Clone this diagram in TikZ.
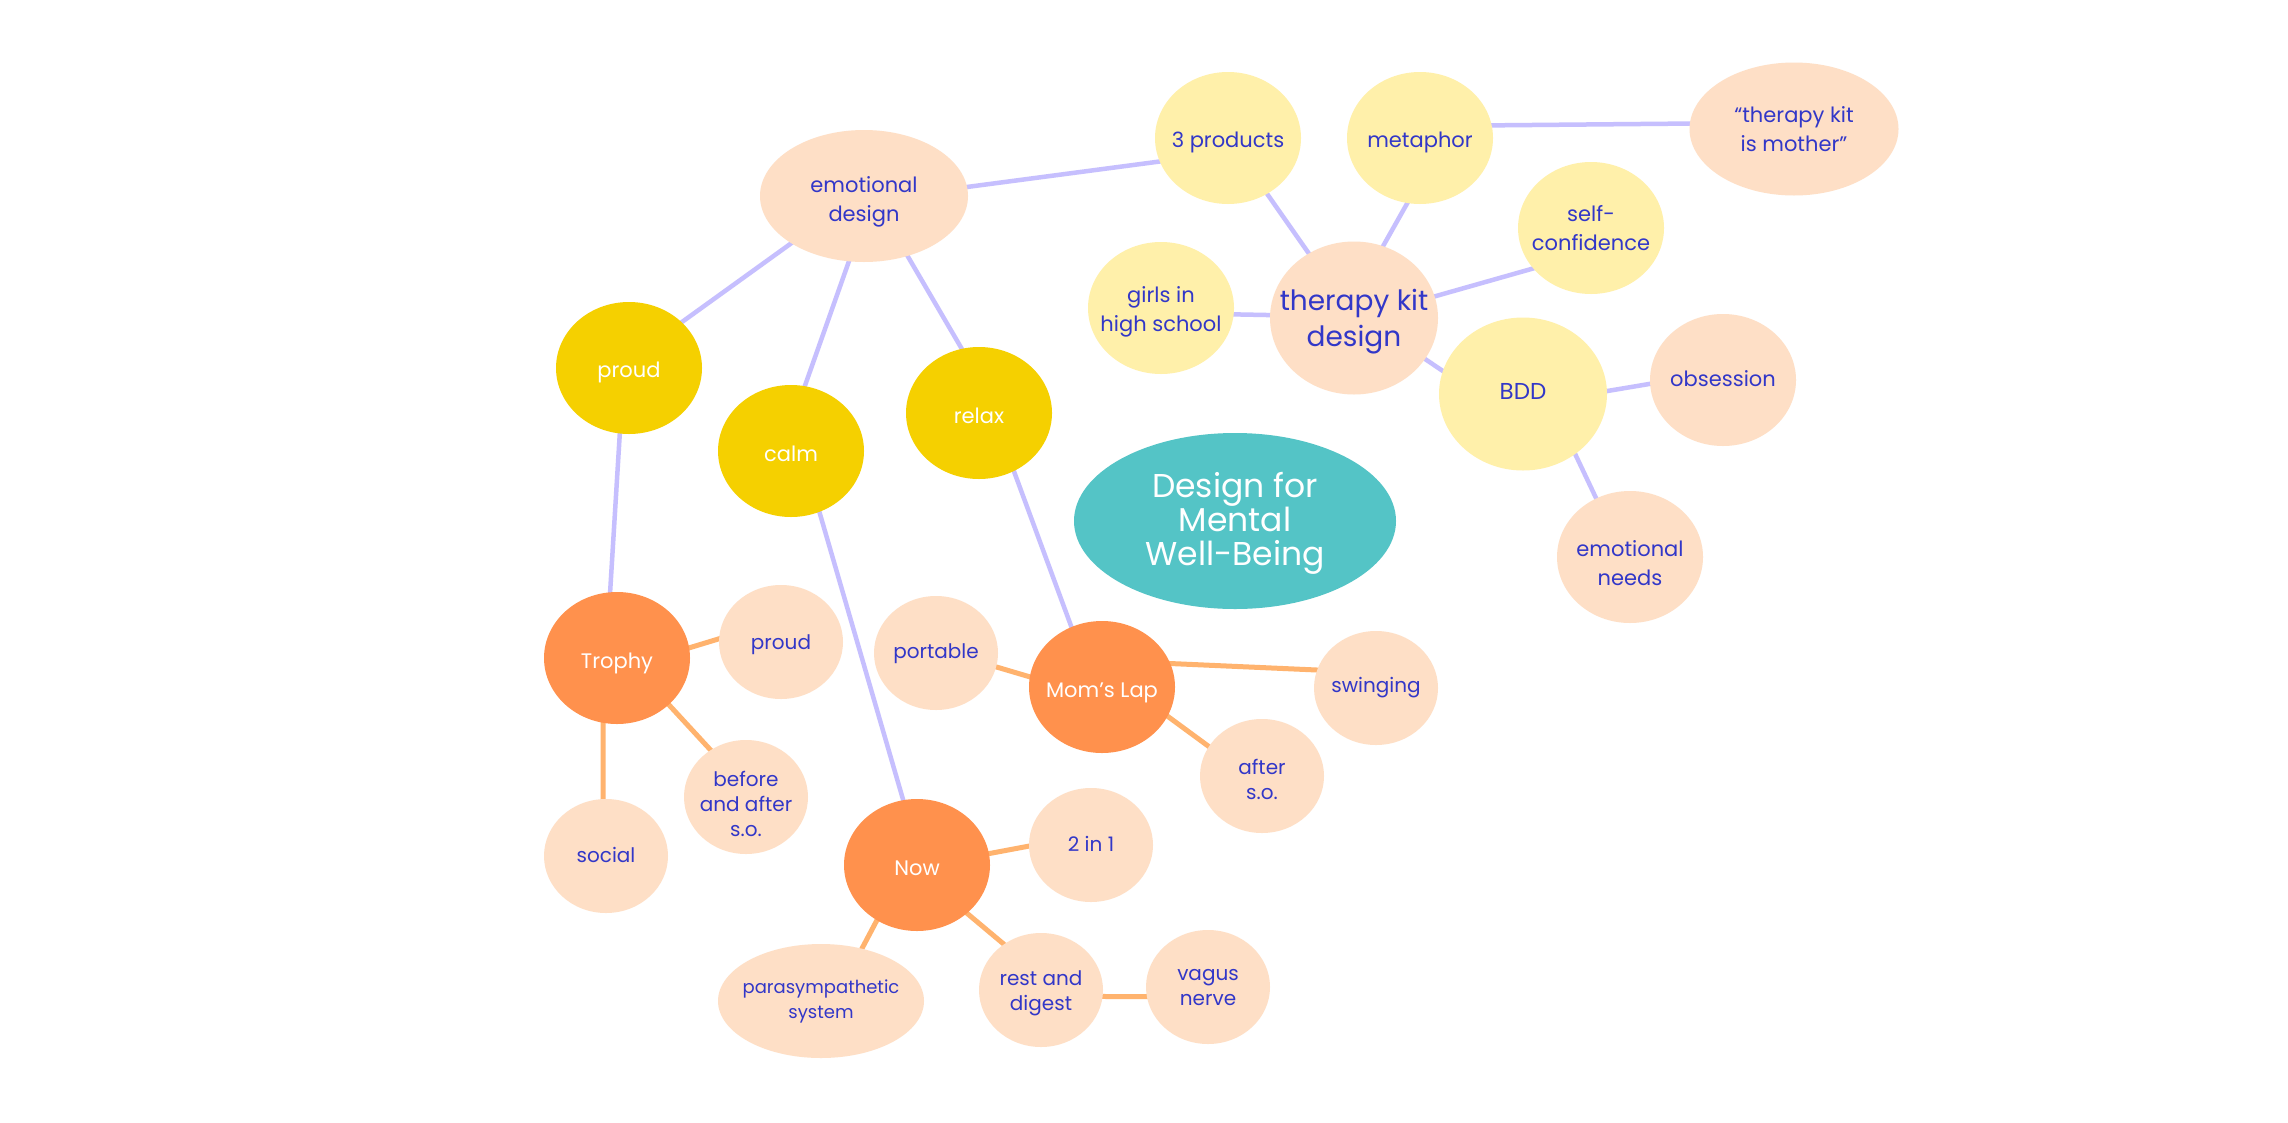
\documentclass[tikz,border=0pt]{standalone}
\usepackage{fontspec}
\setmainfont{Poppins}
\usetikzlibrary{shapes.geometric,backgrounds}
\definecolor{peach}{HTML}{FEDFC6}
\definecolor{lyel}{HTML}{FFF0AA}
\definecolor{gold}{HTML}{F5D000}
\definecolor{orng}{HTML}{FF914D}
\definecolor{tealc}{HTML}{54C4C6}
\definecolor{lav}{HTML}{C6BFFE}
\definecolor{oline}{HTML}{FFB36E}
\definecolor{tblue}{HTML}{3237C8}
\tikzset{
  bub/.style={ellipse, inner sep=0pt, outer sep=0pt, draw=none},
  bigb/.style={bub, minimum width=146pt, minimum height=132pt},
  smallb/.style={bub, minimum width=124pt, minimum height=114pt},
  pk/.style={fill=peach}, ly/.style={fill=lyel}, gd/.style={fill=gold}, og/.style={fill=orng},
  tb/.style={align=center, text=tblue, inner sep=0pt},
  tw/.style={align=center, text=white, inner sep=0pt},
  fS/.style={font=\fontsize{20}{25}\selectfont},
  fP/.style={font=\fontsize{18}{25}\selectfont},
  fM/.style={font=\fontsize{21}{29}\selectfont},
  fW/.style={font=\fontsize{21}{26}\selectfont},
  fT/.style={font=\fontsize{28}{36}\selectfont},
  fB/.style={font=\fontsize{23}{28}\selectfont},
  fC/.style={font=\fontsize{33}{34}\selectfont},
  lavl/.style={draw=lav, line width=4.5pt, shorten <=-4pt, shorten >=-4pt},
  orl/.style={draw=oline, line width=5pt, shorten <=-4pt, shorten >=-4pt},
}
\begin{document}
\begin{tikzpicture}[x=1pt, y=-1pt]
\begin{scope}[on background layer]
  \fill[white] (0,0) rectangle (2288,1122);
\end{scope}
\useasboundingbox (0,0) rectangle (2288,1122);

% top right cluster
\node[bub, pk, minimum width=208pt, minimum height=132pt, label={[tb,fM,yshift=-6pt]center:emotional\\design}] (ED) at (864,196) {};
\node[bigb, ly, label={[tb,fM,yshift=-4pt]center:3 products}] (P3) at (1228,138) {};
\node[bigb, ly, label={[tb,fM,yshift=-4pt]center:metaphor}] (MET) at (1420,138) {};
\node[bub, pk, minimum width=209pt, minimum height=133pt, label={[tb,fM]center:“therapy kit\\is mother”}] (MOT) at (1794,129) {};
\node[bigb, ly, label={[tb,fM]center:self-\\confidence}] (SC) at (1591,228) {};
\node[bigb, ly, label={[tb,fM,yshift=-4pt]center:girls in\\high school}] (GIR) at (1161,308) {};
\node[bub, pk, minimum width=168pt, minimum height=153pt, label={[tb,fT,yshift=-4pt]center:therapy kit\\design}] (TK) at (1354,318) {};
\node[bub, ly, minimum width=168pt, minimum height=153pt, label={[tb,fB,yshift=3pt]center:BDD}] (BDD) at (1523,394) {};
\node[bigb, pk, label={[tb,fM,yshift=1pt]center:obsession}] (OBS) at (1723,380) {};
\node[bigb, pk, label={[tb,fM,yshift=-6pt]center:emotional\\needs}] (EN) at (1630,557) {};

% centre
\node[bub, fill=tealc, minimum width=322pt, minimum height=176pt, label={[tw,fC,yshift=-2pt]center:Design for\\Mental\\Well-Being}] (DMW) at (1235,521) {};

% gold
\node[bigb, gd, label={[tw,fW,yshift=-4pt]center:proud}] (PRG) at (629,368) {};
\node[bigb, gd, label={[tw,fW,yshift=-3pt]center:calm}] (CALM) at (791,451) {};
\node[bigb, gd, label={[tw,fW,yshift=-3pt]center:relax}] (RELAX) at (979,413) {};

% orange
\node[bigb, og, label={[tw,fW,yshift=-5pt]center:Trophy}] (TRO) at (617,658) {};
\node[bigb, og, label={[tw,fW,yshift=-3pt]center:Now}] (NOW) at (917,865) {};
\node[bigb, og, label={[tw,fW,yshift=-6pt]center:Mom’s Lap}] (MOM) at (1102,687) {};

% small peach
\node[smallb, pk, label={[tb,fS,yshift=-3pt]center:proud}] (PRP) at (781,642) {};
\node[smallb, pk, label={[tb,fS,yshift=-7pt]center:before\\and after\\s.o.}] (BA) at (746,797) {};
\node[smallb, pk, label={[tb,fS,yshift=1pt]center:social}] (SOC) at (606,856) {};
\node[smallb, pk, label={[tb,fS,yshift=1pt]center:2 in 1}] (TWO) at (1091,845) {};
\node[bub, pk, minimum width=206pt, minimum height=114pt, label={[tb,fP]center:parasympathetic\\system}] (PARA) at (821,1001) {};
\node[smallb, pk, label={[tb,fS,yshift=-3pt]center:rest and\\digest}] (REST) at (1041,990) {};
\node[smallb, pk, label={[tb,fS,yshift=-1pt]center:vagus\\nerve}] (VAG) at (1208,987) {};
\node[smallb, pk, label={[tb,fS,yshift=-1pt]center:portable}] (PORT) at (936,653) {};
\node[smallb, pk, label={[tb,fS]center:swinging}] (SWI) at (1376,688) {};
\node[smallb, pk, label={[tb,fS,yshift=-3pt]center:after\\s.o.}] (AFT) at (1262,776) {};

\begin{scope}[on background layer]
  \draw[lavl] (ED.5) -- (P3.199);
  \draw[lavl] (ED.213) -- (PRG.41);
  \draw[lavl] (ED.257) -- (CALM.78);
  \draw[lavl] (ED.306) -- (RELAX.105);
  \draw[lavl] (P3.305) -- (TK.125);
  \draw[lavl] (MET.259) -- (TK.68);
  \draw[lavl] (MET.10) -- (MOT.177);
  \draw[lavl] (SC.215) -- (TK.15);
  \draw[lavl] (GIR.355) -- (TK.178);
  \draw[lavl] (TK.330) -- (BDD.164);
  \draw[lavl] (BDD.2) -- (OBS.183);
  \draw[lavl] (BDD.311) -- (EN.120);
  \draw[lavl] (PRG.262) -- (TRO.96);
  \draw[lavl] (CALM.295) -- (NOW.102);
  \draw[lavl] (RELAX.301) -- (MOM.117);
  \draw[orl] (TRO.8) -- (PRP.177);
  \draw[orl] (TRO.318) -- (BA.127);
  \draw[orl] (TRO.258) -- (SOC.93);
  \draw[orl] (NOW.9) -- (TWO.181);
  \draw[orl] (NOW.234) -- (PARA.52);
  \draw[orl] (NOW.316) -- (REST.129);
  \draw[orl] (REST.354) -- (VAG.189);
  \draw[orl] (MOM.172) -- (PORT.347);
  \draw[orl] (MOM.19) -- (SWI.163);
  \draw[orl] (MOM.336) -- (AFT.151);
\end{scope}
\end{tikzpicture}
\end{document}
